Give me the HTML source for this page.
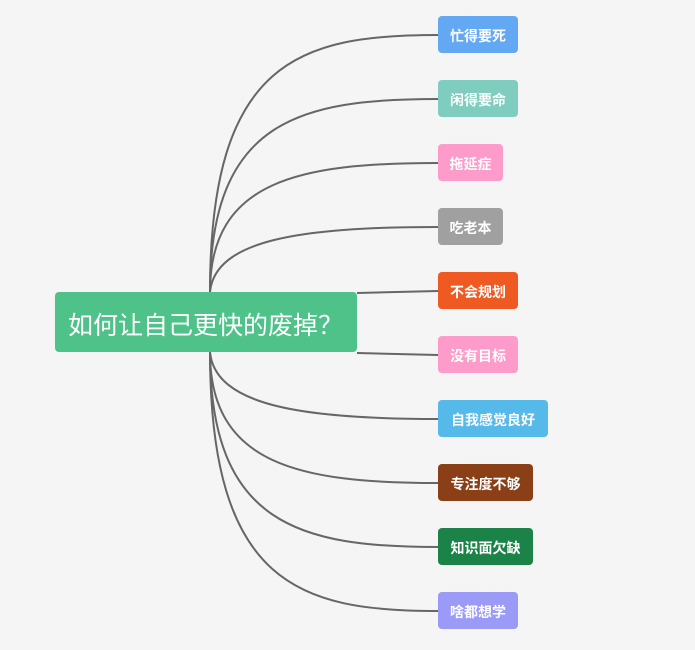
<!DOCTYPE html><html><head><meta charset="utf-8"><style>
body{margin:0;width:695px;height:650px;background:#f5f5f5;position:relative;overflow:hidden;font-family:"Liberation Sans","Noto Sans CJK SC",sans-serif}
.n{position:absolute;left:438px;height:37px;line-height:41px;border-radius:4px;color:#fff;font-size:14px;font-weight:bold;text-align:center}
.c{position:absolute;left:55px;top:292px;width:302px;height:60px;background:#4fc28a;border-radius:4px;color:#fff;font-size:25px;line-height:68px;padding-left:13px;box-sizing:border-box}
</style></head><body>
<svg width="695" height="650" style="position:absolute;left:0;top:0" fill="none" stroke="#666" stroke-width="2">
<path d="M210 292 C210 60 300 35 438 35"/>
<path d="M210 292 C210 120 300 99 438 99"/>
<path d="M210 292 C210 180 300 163 438 163"/>
<path d="M210 292 C215 240 300 227 438 227"/>
<path d="M357 293 L438 291"/>
<path d="M357 353 L438 355"/>
<path d="M210 352 C215 405 300 419 438 419"/>
<path d="M210 352 C210 465 300 483 438 483"/>
<path d="M210 352 C210 525 300 547 438 547"/>
<path d="M210 352 C210 585 300 611 438 611"/>
</svg>
<div class="c">如何让自己更快的废掉？</div>
<div class="n" style="top:16px;width:80px;background:#62a8f3">忙得要死</div>
<div class="n" style="top:80px;width:80px;background:#7fcdbe">闲得要命</div>
<div class="n" style="top:144px;width:65px;background:#fd9bcb">拖延症</div>
<div class="n" style="top:208px;width:65px;background:#a0a0a0">吃老本</div>
<div class="n" style="top:272px;width:80px;background:#ef5a23">不会规划</div>
<div class="n" style="top:336px;width:80px;background:#fd9bcb">没有目标</div>
<div class="n" style="top:400px;width:110px;background:#55b9ea">自我感觉良好</div>
<div class="n" style="top:464px;width:95px;background:#8b3f16">专注度不够</div>
<div class="n" style="top:528px;width:95px;background:#1b8348">知识面欠缺</div>
<div class="n" style="top:592px;width:80px;background:#9b9bf7">啥都想学</div>
</body></html>
